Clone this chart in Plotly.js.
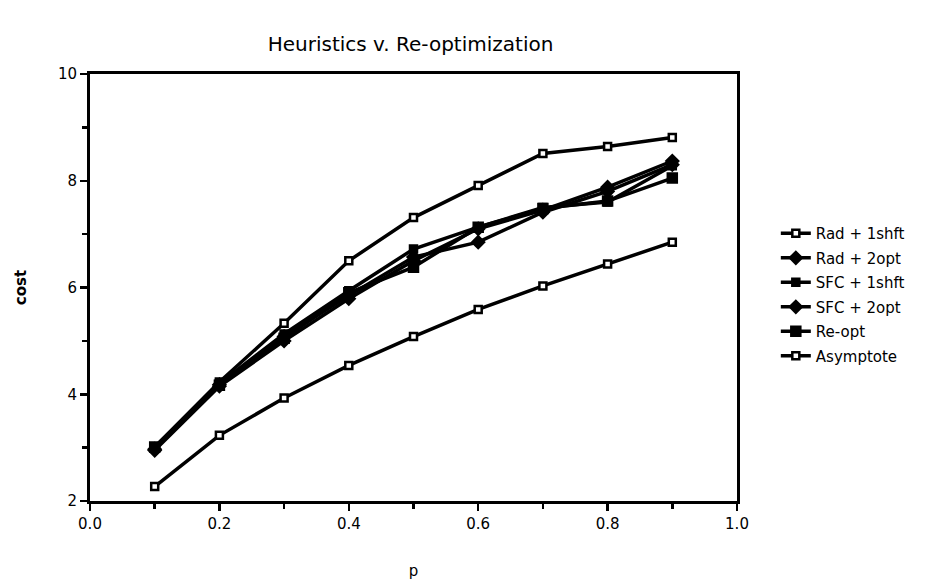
<!DOCTYPE html>
<html>
<head>
<meta charset="utf-8">
<script src="https://cdn.plot.ly/plotly-3.0.1.min.js"></script>
<style>html,body{margin:0;padding:0;background:#fff;}#chart{width:933px;height:587px;}</style>
</head>
<body>
<div id="chart"></div>
<script>
const p = [0.1, 0.2, 0.3, 0.4, 0.5, 0.6, 0.7, 0.8, 0.9];
const radShift = [3.01, 4.23, 5.33, 6.50, 7.31, 7.91, 8.51, 8.64, 8.81];
const rad2opt  = [2.97, 4.18, 5.08, 5.85, 6.57, 6.85, 7.41, 7.80, 8.30];
const sfcShift = [3.00, 4.20, 5.13, 5.94, 6.72, 7.13, 7.50, 7.60, 8.28];
const sfc2opt  = [2.95, 4.15, 5.00, 5.79, 6.50, 7.10, 7.45, 7.88, 8.37];
const reopt    = [3.01, 4.17, 5.05, 5.90, 6.38, 7.13, 7.48, 7.62, 8.05];
const asymptote= [2.27, 3.23, 3.93, 4.54, 5.08, 5.59, 6.03, 6.44, 6.85];
const names = ["Rad + 1shft", "Rad + 2opt", "SFC + 1shft", "SFC + 2opt", "Re-opt", "Asymptote"];

const FONT = "DejaVu Sans, Liberation Sans, sans-serif";
function tr(name, y, symbol, fill, size) {
  return {
    x: p, y: y, name: name, legendgroup: name, type: "scatter", mode: "lines+markers",
    line: {color: "#000", width: 3.5},
    marker: {symbol: symbol, color: fill, size: size, line: {color: "#000", width: 2.5}}
  };
}
const data = [
  tr(names[0], radShift, "square", "#fff", 7),
  tr(names[1], rad2opt, "diamond", "#000", 9),
  tr(names[2], sfcShift, "square", "#000", 7),
  tr(names[3], sfc2opt, "diamond", "#000", 9),
  tr(names[4], reopt, "square", "#000", 9),
  tr(names[5], asymptote, "square", "#fff", 7)
];
const layout = {
  width: 933, height: 587,
  paper_bgcolor: "#fff", plot_bgcolor: "#fff",
  margin: {l: 90, r: 196, t: 74, b: 86},
  font: {family: FONT, color: "#000", size: 15},
  title: {text: "Heuristics v. Re-optimization", x: 0.44, xanchor: "center", y: 0.925, yanchor: "middle",
          font: {family: FONT, size: 20, color: "#000"}},
  xaxis: {
    range: [0, 1], tickmode: "linear", tick0: 0, dtick: 0.2, tickformat: ".1f",
    ticks: "outside", ticklen: 7, tickwidth: 2.5, tickcolor: "#000",
    minor: {dtick: 0.1, ticks: "outside", ticklen: 5, tickwidth: 2.5, tickcolor: "#000"},
    showline: true, linewidth: 3, linecolor: "#000", mirror: true,
    showgrid: false, zeroline: false,
    tickfont: {family: FONT, size: 15},
    title: {text: "p", font: {family: FONT, size: 15}, standoff: 34}
  },
  yaxis: {
    range: [2, 10], tickmode: "linear", tick0: 2, dtick: 2,
    ticks: "outside", ticklen: 7, tickwidth: 2.5, tickcolor: "#000",
    minor: {dtick: 1, ticks: "outside", ticklen: 5, tickwidth: 2.5, tickcolor: "#000"},
    showline: true, linewidth: 3, linecolor: "#000", mirror: true,
    showgrid: false, zeroline: false,
    tickfont: {family: FONT, size: 15},
    title: {text: "<b>cost</b>", font: {family: FONT, size: 15}, standoff: 28}
  },
  showlegend: true,
  legend: {x: 1.06, xanchor: "left", y: 0.665, yanchor: "top", traceorder: "grouped",
           font: {family: FONT, size: 15}, itemwidth: 30, tracegroupgap: 2, bgcolor: "rgba(0,0,0,0)"}
};
Plotly.newPlot("chart", data, layout, {displayModeBar: false, staticPlot: true});
</script>
</body>
</html>
